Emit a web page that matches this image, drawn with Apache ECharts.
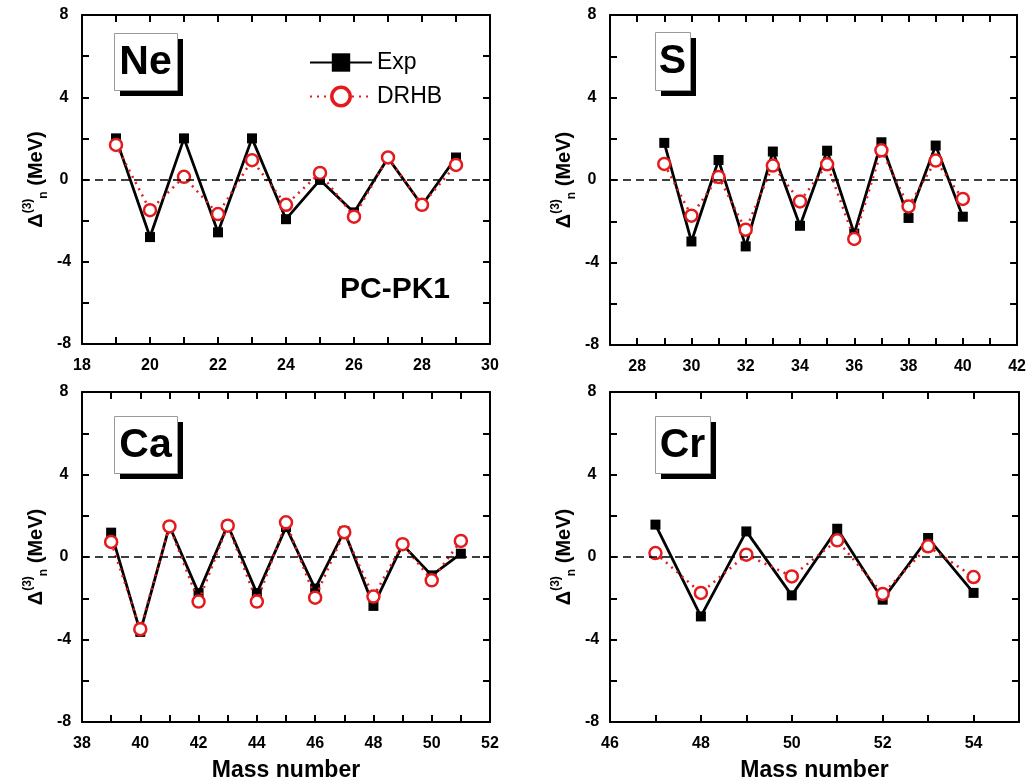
<!DOCTYPE html>
<html><head><meta charset="utf-8">
<script src="https://cdn.jsdelivr.net/npm/echarts@6/dist/echarts.min.js"></script>
<style>html,body{margin:0;padding:0;background:#fff}#c{width:1029px;height:783px}</style>
</head><body><div id="c"></div>
<script>
// ---- data ----
const neMass = [19, 20, 21, 22, 23, 24, 25, 26, 27, 28, 29];
const neExp  = [2.0, -2.8, 2.0, -2.57, 2.0, -1.93, -0.02, -1.6, 1.05, -1.25, 1.07];
const neDRHB = [1.68, -1.49, 0.13, -1.68, 0.94, -1.23, 0.32, -1.81, 1.07, -1.23, 0.71];

const sMass = [29, 30, 31, 32, 33, 34, 35, 36, 37, 38, 39, 40];
const sExp  = [1.80, -2.98, 0.97, -3.22, 1.38, -2.22, 1.42, -2.6, 1.83, -1.84, 1.67, -1.78];
const sDRHB = [0.78, -1.73, 0.15, -2.41, 0.70, -1.04, 0.76, -2.86, 1.44, -1.28, 0.94, -0.92];

const caMass = [39, 40, 41, 42, 43, 44, 45, 46, 47, 48, 49, 50, 51];
const caExp  = [1.18, -3.63, 1.5, -1.75, 1.55, -1.75, 1.45, -1.53, 1.25, -2.37, 0.6, -0.89, 0.16];
const caDRHB = [0.73, -3.5, 1.48, -2.16, 1.52, -2.16, 1.68, -1.97, 1.2, -1.92, 0.62, -1.13, 0.78];

const crMass = [47, 48, 49, 50, 51, 52, 53, 54];
const crExp  = [1.57, -2.88, 1.24, -1.86, 1.37, -2.07, 0.92, -1.74];
const crDRHB = [0.19, -1.74, 0.11, -0.94, 0.81, -1.79, 0.52, -0.97];

const elements = ['Ne', 'S', 'Ca', 'Cr'];
const xMins = [18, 27, 38, 46];
const xMaxs = [30, 42, 52, 55];
const yMin = -8, yMax = 8;
const seriesNames = ['Exp', 'DRHB'];
const xTitle = 'Mass number';
const modelLabel = 'PC-PK1';

// ---- chart ----
const FONT = 'Liberation Sans, Arial, sans-serif';
const RED = '#e41a1c';
const panels = [
  {mass: neMass, exp: neExp, th: neDRHB},
  {mass: sMass, exp: sExp, th: sDRHB},
  {mass: caMass, exp: caExp, th: caDRHB},
  {mass: crMass, exp: crExp, th: crDRHB}
];
const grids = [
  {left: 82, top: 15, width: 408, height: 329},
  {left: 610, top: 15, width: 409, height: 330},
  {left: 82, top: 392, width: 408, height: 330},
  {left: 610, top: 392, width: 409, height: 330}
];

const axisLine = {show: true, onZero: false, lineStyle: {color: '#000', width: 2}};
const axisTick = {show: true, inside: true, length: 7, lineStyle: {color: '#000', width: 2}};
const labelStyle = {color: '#000', fontSize: 16, fontWeight: 'bold', fontFamily: FONT};

const xAxis = [], yAxis = [], series = [];
panels.forEach((p, i) => {
  xAxis.push({
    gridIndex: i, type: 'value', position: 'bottom', min: xMins[i], max: xMaxs[i], interval: 1,
    axisLine, axisTick, splitLine: {show: false},
    axisLabel: Object.assign({margin: 14, formatter: v => (v % 2 === 0 ? String(v) : '')}, labelStyle),
    name: i >= 2 ? xTitle : '', nameLocation: 'middle', nameGap: 37,
    nameTextStyle: {fontSize: 23, fontWeight: 'bold', color: '#000', fontFamily: FONT}
  });
  xAxis.push({
    gridIndex: i, type: 'value', position: 'top', min: xMins[i], max: xMaxs[i], interval: 1,
    axisLine, axisTick, splitLine: {show: false}, axisLabel: {show: false}
  });
  yAxis.push({
    gridIndex: i, type: 'value', position: 'left', min: yMin, max: yMax, interval: 2,
    axisLine, axisTick, splitLine: {show: false},
    axisLabel: Object.assign({margin: 18, align: 'center', formatter: v => (v % 4 === 0 ? String(v) : '')}, labelStyle),
    name: '{d|Δ}{sup|(3)}{sub|n}{d| (MeV)}', nameLocation: 'middle', nameRotate: 90, nameGap: 32,
    nameTextStyle: {
      rich: {
        d: {fontSize: 20, fontWeight: 'bold', color: '#000', fontFamily: FONT, lineHeight: 28},
        sup: {fontSize: 12, fontWeight: 'bold', color: '#000', fontFamily: FONT, verticalAlign: 'top', lineHeight: 14},
        sub: {fontSize: 12, fontWeight: 'bold', color: '#000', fontFamily: FONT, verticalAlign: 'bottom', lineHeight: 14}
      }
    }
  });
  yAxis.push({
    gridIndex: i, type: 'value', position: 'right', min: yMin, max: yMax, interval: 2,
    axisLine, axisTick, splitLine: {show: false}, axisLabel: {show: false}
  });
  series.push({
    type: 'line', name: seriesNames[0], xAxisIndex: 2 * i, yAxisIndex: 2 * i,
    data: p.mass.map((m, k) => [m, p.exp[k]]),
    symbol: 'rect', symbolSize: 10,
    lineStyle: {color: '#000', width: 2.8}, itemStyle: {color: '#000'}, z: 3,
    markLine: {
      silent: true, symbol: 'none', label: {show: false}, animation: false,
      lineStyle: {color: '#000', type: [8, 5], width: 1.6},
      data: [{yAxis: 0}]
    }
  });
  series.push({
    type: 'line', name: seriesNames[1], xAxisIndex: 2 * i, yAxisIndex: 2 * i,
    data: p.mass.map((m, k) => [m, p.th[k]]),
    symbol: 'circle', symbolSize: 12,
    lineStyle: {color: RED, width: 2.5, type: [2, 5]},
    itemStyle: {color: '#fff', borderColor: RED, borderWidth: 2.5}, z: 4
  });
});

// element boxes (decorations)
const boxes = [
  {x: 114, y: 33, w: 63, h: 57},
  {x: 655, y: 32, w: 35, h: 58},
  {x: 114, y: 416, w: 63, h: 57},
  {x: 655, y: 416, w: 55, h: 57}
];
const graphic = [];
boxes.forEach((b, i) => {
  graphic.push({type: 'rect', left: b.x + 6, top: b.y + 6, shape: {width: b.w, height: b.h}, style: {fill: '#000'}, z: 10});
  graphic.push({type: 'rect', left: b.x, top: b.y, shape: {width: b.w, height: b.h}, style: {fill: '#fff', stroke: '#9a9a9a', lineWidth: 1}, z: 11});
  graphic.push({type: 'text', x: b.x + b.w / 2, y: b.y + b.h / 2 + 1, style: {text: elements[i], fontSize: 41, fontWeight: 'bold', fontFamily: FONT, fill: '#000', align: 'center', verticalAlign: 'middle'}, z: 12});
});
graphic.push({type: 'text', x: 395, y: 290, style: {text: modelLabel, fontSize: 30, fontWeight: 'bold', fontFamily: FONT, fill: '#000', align: 'center', verticalAlign: 'middle'}, z: 12});

const chart = echarts.init(document.getElementById('c'), null, {renderer: 'canvas'});
chart.setOption({
  animation: false,
  backgroundColor: '#fff',
  grid: grids,
  xAxis, yAxis, series, graphic,
  legend: {
    orient: 'vertical', left: 304, top: 46,
    itemWidth: 62, itemHeight: 23, itemGap: 11, selectedMode: false,
    textStyle: {fontSize: 23, color: '#000', fontFamily: FONT},
    data: [
      {name: seriesNames[0], itemStyle: {color: '#000'}},
      {name: seriesNames[1], itemStyle: {color: '#fff', borderColor: RED, borderWidth: 3.5}}
    ]
  }
});
</script>
</body></html>
